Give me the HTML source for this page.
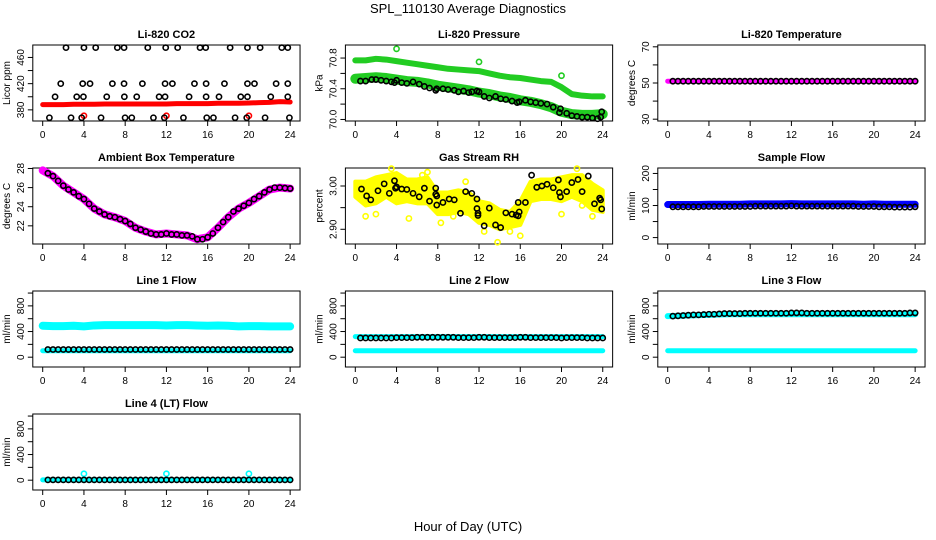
<!DOCTYPE html>
<html><head><meta charset="utf-8"><style>
body{margin:0;background:#fff}
svg{display:block;font-family:"Liberation Sans",Arial,sans-serif}
</style></head><body>
<svg id="fig" width="936" height="540" viewBox="0 0 936 540" xmlns="http://www.w3.org/2000/svg">
<text x="468" y="13" text-anchor="middle" font-size="13">SPL_110130  Average Diagnostics</text>
<text x="468" y="531" text-anchor="middle" font-size="13">Hour of Day (UTC)</text>
</svg>
<script>
// ---- shared hours for half-hourly black means ----
const hrs = [0.5,1,1.5,2,2.5,3,3.5,4,4.5,5,5.5,6,6.5,7,7.5,8,8.5,9,9.5,10,10.5,11,11.5,12,12.5,13,13.5,14,14.5,15,15.5,16,16.5,17,17.5,18,18.5,19,19.5,20,20.5,21,21.5,22,22.5,23,23.5,24];
const hourly = [0,1,2,3,4,5,6,7,8,9,10,11,12,13,14,15,16,17,18,19,20,21,22,23,24];
const xTicks = [0,4,8,12,16,20,24];

// CO2
const co2Top = [2.26,4.0,5.14,7.24,7.89,10.19,11.93,13.09,15.26,15.81,18.18,19.86,21.09,23.19,23.77];
const co2Mid = [1.75,3.88,4.59,6.76,7.89,9.67,11.87,12.58,14.72,15.85,17.63,19.86,20.54,22.64,23.77];
const co2Low = [1.2,3.3,3.95,6.21,7.92,9.12,11.29,11.87,14.2,15.85,17.1,19.21,19.86,22.12,23.77];
const co2Bot = [0.65,2.75,3.78,5.66,7.99,8.64,10.74,11.8,13.65,15.91,16.56,18.66,19.79,21.57,23.93];
const co2Red = [388,388,388,388.5,388.5,388.5,389,389,389,389,389,389,389,389.5,389.5,389.5,389.5,390,390,390,390.5,391,391.5,392.5,392];
const co2RedOut = [4,12,20];

// Pressure
const presUpper = [70.77,70.77,70.79,70.78,70.76,70.74,70.72,70.70,70.68,70.66,70.65,70.64,70.63,70.60,70.57,70.55,70.54,70.52,70.50,70.49,70.42,70.33,70.31,70.30,70.30];
const presLower = [70.53,70.54,70.55,70.54,70.52,70.50,70.49,70.47,70.44,70.42,70.40,70.38,70.35,70.33,70.30,70.28,70.25,70.23,70.20,70.16,70.10,70.07,70.06,70.06,70.07];
const presHrs = [0.5,1,1.6,2,2.5,3,3.5,3.8,4,4.5,5,5.6,6.2,6.7,7.2,7.8,7.9,8.5,9,9.6,10,10.5,11,11.3,11.8,12,12.5,13,13.6,14.1,14.6,15.2,15.7,15.9,16.5,17,17.5,18,18.6,19.2,19.8,19.9,20.5,21,21.5,22,22.5,23,23.5,23.8,23.9];
const presBlack = [70.50,70.50,70.52,70.52,70.51,70.50,70.49,70.48,70.51,70.48,70.47,70.49,70.46,70.43,70.41,70.38,70.40,70.40,70.39,70.38,70.36,70.37,70.35,70.36,70.37,70.36,70.30,70.28,70.30,70.27,70.26,70.24,70.22,70.23,70.25,70.23,70.22,70.21,70.20,70.16,70.09,70.14,70.08,70.05,70.04,70.03,70.03,70.02,70.01,70.03,70.10];
const presOutHrs = [4,12,20];
const presOutVals = [70.92,70.75,70.57];

// Li-820 temperature
const tempMag = [51,51,51,51,51,51,51,51,51,51,51,51,51,51,51,51,51,51,51,51,51,51,51,51,51];
const tempBlack = [51,51,51,51,51,51,51,51,51,51,51,51,51,51,51,51,51,51,51,51,51,51,51,51,51,51,51,51,51,51,51,51,51,51,51,51,51,51,51,51,51,51,51,51,51,51,51,51];

// Ambient box temperature
const ambMag = [27.8,27.2,26.2,25.5,24.8,23.8,23.2,22.9,22.5,21.8,21.4,21.1,21.2,21.1,21.0,20.6,20.8,21.8,22.9,23.8,24.4,25.1,25.8,26.0,25.9];
const ambBlack = [27.5,27.2,26.7,26.2,25.8,25.5,25.1,24.8,24.3,23.8,23.5,23.2,23.0,22.9,22.7,22.5,22.2,21.8,21.6,21.4,21.2,21.1,21.1,21.2,21.1,21.1,21.0,21.0,20.9,20.6,20.6,20.8,21.2,21.8,22.4,22.9,23.5,23.8,24.1,24.4,24.8,25.1,25.5,25.8,26.0,26.0,25.95,25.9];

// Gas stream RH
const rhLow = [2.975,2.955,2.96,2.975,2.96,2.965,2.96,2.96,2.935,2.935,2.94,2.935,2.915,2.91,2.9,2.905,2.91,2.965,2.97,2.97,2.965,2.975,2.965,2.945,2.94];
const rhHigh = [3.01,3.01,3.02,3.025,3.03,3.015,3.015,3.02,2.985,2.985,2.99,2.985,2.965,2.96,2.945,2.94,2.965,3.01,3.015,3.015,3.02,3.025,3.025,3.005,2.99];
const rhOutHrs = [3.5,7,5.2,1,2,13.8,16,8.3,12.5,21.5,20,23,10.7,22,15,0.3,6.5,18.5,9.5,14.5];
const rhOutVals = [3.04,3.032,2.925,2.93,2.935,2.87,2.885,2.915,2.895,3.04,2.935,2.93,3.01,2.955,2.895,2.99,3.025,2.985,2.93,2.92];
const rhHrs = [0.6,1.1,1.5,2.2,2.8,3.3,3.8,3.9,4.0,4.5,5.0,5.6,6.2,6.7,7.2,7.8,7.8,7.9,7.9,8.5,9.1,9.6,10.2,10.7,11.3,11.8,11.8,11.9,11.9,12.5,13.0,13.6,14.1,14.6,15.2,15.6,15.8,15.8,15.9,16.5,17.1,17.6,18.1,18.6,19.2,19.7,19.8,19.9,20.5,21.0,21.6,22.0,22.6,23.2,23.7,23.8,23.9];
const rhBlack = [2.993,2.977,2.968,2.989,3.005,2.983,3.012,2.995,2.998,2.993,2.992,2.983,2.975,2.995,2.965,2.995,2.981,2.977,2.956,2.962,2.97,2.968,2.937,2.987,2.983,2.97,2.948,2.937,2.932,2.908,2.949,2.91,2.904,2.938,2.935,2.933,2.931,2.962,2.94,2.962,3.025,2.997,3.0,3.004,2.996,3.014,2.985,2.975,2.987,3.008,3.015,2.987,3.023,2.959,2.972,2.968,2.947];

// Sample flow
const sampBlue = [103,103,103,103,104,104,104,104,105,105,105,105,106,105,105,105,105,105,105,104,105,104,104,104,104];
const sampBlack = [96,96,96,96,96,96,97,97,97,97,97,97,97,97,97,97,98,98,98,98,98,98,98,99,98,98,98,98,98,98,98,98,98,98,98,98,97,97,97,97,96,96,96,95,95,95,95,96];

// Line flows
const l1Upper = [490,485,485,490,480,495,500,500,500,500,500,500,495,500,500,495,490,495,490,480,485,485,480,480,480];
const l1Lower = [100,100,100,100,100,100,100,100,100,100,100,100,100,100,100,100,100,100,100,100,100,100,100,100,100];
const l1Black = [120,120,120,120,120,120,120,120,120,120,120,120,120,120,120,120,120,120,120,120,120,120,120,120,120,120,120,120,120,120,120,120,120,120,120,120,120,120,120,120,120,120,120,120,120,120,120,120];
const l2Upper = [320,320,320,320,320,320,320,320,320,320,320,320,320,320,320,320,320,320,320,320,320,320,320,320,320];
const l2Lower = [100,100,100,100,100,100,100,100,100,100,100,100,100,100,100,100,100,100,100,100,100,100,100,100,100];
const l2Black = [300,300,300,300,300,300,300,305,305,305,305,310,310,310,310,310,310,310,310,305,305,305,305,310,310,305,305,305,305,305,305,310,310,305,305,305,305,305,305,300,305,305,305,305,300,300,300,300];
const l3Upper = [640,645,650,655,660,665,670,670,670,670,670,670,670,670,670,670,670,670,670,670,670,670,670,670,670];
const l3Lower = [100,100,100,100,100,100,100,100,100,100,100,100,100,100,100,100,100,100,100,100,100,100,100,100,100];
const l3Black = [640,645,650,655,660,660,665,670,670,675,680,680,680,680,685,685,685,685,685,685,685,685,685,690,690,690,685,685,685,685,685,685,685,685,685,685,685,685,685,685,685,685,685,685,685,685,690,690];
const l4Cyan = [5,5,5,5,5,5,5,5,5,5,5,5,5,5,5,5,5,5,5,5,5,5,5,5,5];
const l4Black = [5,5,5,5,5,5,5,5,5,5,5,5,5,5,5,5,5,5,5,5,5,5,5,5,5,5,5,5,5,5,5,5,5,5,5,5,5,5,5,5,5,5,5,5,5,5,5,5];
const l4OutHrs = [4,12,20];
const l4OutVals = [100,100,100];

const NS = 'http://www.w3.org/2000/svg';
const svg = document.getElementById('fig');
const COLX = [42.7,355.3,667.7];
const ROWB = [121,244,367,490];
const PXH = 10.31, BOXH = 76;

function mk(tag, attrs, parent){
  const e = document.createElementNS(NS, tag);
  for (const k in attrs) e.setAttribute(k, attrs[k]);
  (parent||svg).appendChild(e);
  return e;
}

function panel(name, title, ylab, col, row, ymin, ymax, yticks, ylabels){
  const g = mk('g', {});
  
  
  const x0 = COLX[col], bottom = ROWB[row], top = bottom - BOXH;
  const left = x0 - 0.04*24*PXH, right = x0 + 24*PXH + 0.04*24*PXH;
  const P = {g, x:(h)=>x0 + h*PXH, y:(v)=>bottom - (v-ymin)/(ymax-ymin)*BOXH, left, right, top, bottom};
  const box = mk('rect', {x:left, y:top, width:right-left, height:BOXH, fill:'none', stroke:'#000', 'stroke-width':1}, g);
  
  
  const t = mk('text', {x:(left+right)/2, y:top-7, 'text-anchor':'middle', 'font-size':11, 'font-weight':'bold'}, g);
  t.textContent = title;
  
  
  const xa = mk('g', {}, g);
  
  
  xTicks.forEach(h=>{
    mk('line', {x1:P.x(h), x2:P.x(h), y1:bottom, y2:bottom+5, stroke:'#000'}, xa);
    const l = mk('text', {x:P.x(h), y:bottom+17, 'text-anchor':'middle', 'font-size':10}, xa);
    l.textContent = h;
  });
  const ya = mk('g', {}, g);
  
  
  yticks.forEach(v=>{
    mk('line', {x1:left-5, x2:left, y1:P.y(v), y2:P.y(v), stroke:'#000'}, ya);
  });
  ylabels.forEach(v=>{
    const yy = P.y(v);
    const l = mk('text', {x:left-9, y:yy, 'text-anchor':'middle', 'font-size':10, transform:`rotate(-90 ${left-9} ${yy})`}, ya);
    l.textContent = v;
  });
  const yt = mk('text', {x:left-23, y:(top+bottom)/2, 'text-anchor':'middle', 'font-size':10, transform:`rotate(-90 ${left-23} ${(top+bottom)/2})`}, g);
  yt.textContent = ylab;
  
  
  return P;
}

function band(P, hs, vs, color, wpx, nm){
  const pl = mk('polyline', {points: hs.map((h,i)=>P.x(h)+','+P.y(vs[i])).join(' '), fill:'none', stroke:color, 'stroke-width':wpx, 'stroke-linejoin':'round', 'stroke-linecap':'round'}, P.g);
  
  
}
function pts(P, hs, vs, color, nm, r){
  const g = mk('g', {}, P.g);
  
  
  hs.forEach((h,i)=>{
    const c = mk('circle', {cx:P.x(h), cy:P.y(vs[i]), r:r||2.6, fill:'none', stroke:color, 'stroke-width':1.6}, g);
    
    
  });
}
function constPts(P, hs, v, color, nm){ pts(P, hs, hs.map(()=>v), color, nm); }

// Panel 1: CO2
let P = panel('co2-panel','Li-820 CO2','Licor ppm',0,0,363,479,[380,400,420,440,460],[380,420,460]);
band(P, hourly, co2Red, '#ff0000', 5, 'co2-red-series');
pts(P, co2RedOut, [371,371,371], '#ff0000', 'co2-red-outliers');
constPts(P, co2Top, 475, '#000', 'co2-black-475');
constPts(P, co2Mid, 420, '#000', 'co2-black-420');
constPts(P, co2Low, 400, '#000', 'co2-black-400');
constPts(P, co2Bot, 368, '#000', 'co2-black-368');

// Panel 2: Pressure
P = panel('pressure-panel','Li-820 Pressure','kPa',1,0,69.98,70.97,[70.0,70.2,70.4,70.6,70.8],['70.0','70.4','70.8']);
band(P, hourly, presUpper, '#22cc22', 6, 'pressure-upper-green');
band(P, hourly, presLower, '#22cc22', 10, 'pressure-lower-green');
pts(P, presOutHrs, presOutVals, '#22cc22', 'pressure-green-outliers');
pts(P, presHrs, presBlack, '#000', 'pressure-black-means');

// Panel 3: Li-820 temperature
P = panel('li820-temp-panel','Li-820 Temperature','degrees C',2,0,29,71,[30,40,50,60,70],[30,50,70]);
band(P, hourly, tempMag, '#ff00ff', 5, 'li820-temp-magenta');
pts(P, hrs, tempBlack, '#000', 'li820-temp-black');

// Panel 4: Ambient
P = panel('ambient-temp-panel','Ambient Box Temperature','degrees C',0,1,20.1,28.05,[22,24,26,28],[22,24,26,28]);
band(P, hourly, ambMag, '#ff00ff', 8, 'ambient-magenta');
pts(P, hrs, ambBlack, '#000', 'ambient-black');

// Panel 5: RH
P = panel('rh-panel','Gas Stream RH','percent',1,1,2.866,3.0416,[2.90,2.95,3.00],['2.90','3.00']);
{
  const poly = hourly.map((h,i)=>P.x(h)+','+P.y(rhHigh[i])).concat(hourly.slice().reverse().map((h,j)=>P.x(h)+','+P.y(rhLow[hourly.length-1-j]))).join(' ');
  const pg = mk('polygon', {points:poly, fill:'#ffff00', stroke:'#ffff00', 'stroke-width':4, 'stroke-linejoin':'round'}, P.g);
  
  
}
pts(P, rhOutHrs, rhOutVals, '#ffff00', 'rh-yellow-outliers');
pts(P, rhHrs, rhBlack, '#000', 'rh-black-means');

// Panel 6: Sample flow
P = panel('sample-flow-panel','Sample Flow','ml/min',2,1,-20,217,[0,50,100,150,200],[0,100,200]);
band(P, hourly, sampBlue, '#0000ff', 7, 'sample-flow-blue');
pts(P, hrs, sampBlack, '#000', 'sample-flow-black');

const flowTicks = [0,200,400,600,800,1000], flowLabels = [0,400,800];
// Line 1
P = panel('line1-flow-panel','Line 1 Flow','ml/min',0,2,-153,1032,flowTicks,flowLabels);
band(P, hourly, l1Upper, '#00ffff', 8, 'line1-cyan-upper');
band(P, hourly, l1Lower, '#00ffff', 5, 'line1-cyan-lower');
pts(P, hrs, l1Black, '#000', 'line1-black');
// Line 2
P = panel('line2-flow-panel','Line 2 Flow','ml/min',1,2,-153,1032,flowTicks,flowLabels);
band(P, hourly, l2Upper, '#00ffff', 5, 'line2-cyan-upper');
band(P, hourly, l2Lower, '#00ffff', 5, 'line2-cyan-lower');
pts(P, hrs, l2Black, '#000', 'line2-black');
// Line 3
P = panel('line3-flow-panel','Line 3 Flow','ml/min',2,2,-153,1032,flowTicks,flowLabels);
band(P, hourly, l3Upper, '#00ffff', 6, 'line3-cyan-upper');
band(P, hourly, l3Lower, '#00ffff', 5, 'line3-cyan-lower');
pts(P, hrs, l3Black, '#000', 'line3-black');
// Line 4
P = panel('line4-flow-panel','Line 4 (LT) Flow','ml/min',0,3,-153,1032,flowTicks,flowLabels);
band(P, hourly, l4Cyan, '#00ffff', 5, 'line4-cyan');
pts(P, l4OutHrs, l4OutVals, '#00ffff', 'line4-cyan-outliers');
pts(P, hrs, l4Black, '#000', 'line4-black');
</script>
</body></html>
